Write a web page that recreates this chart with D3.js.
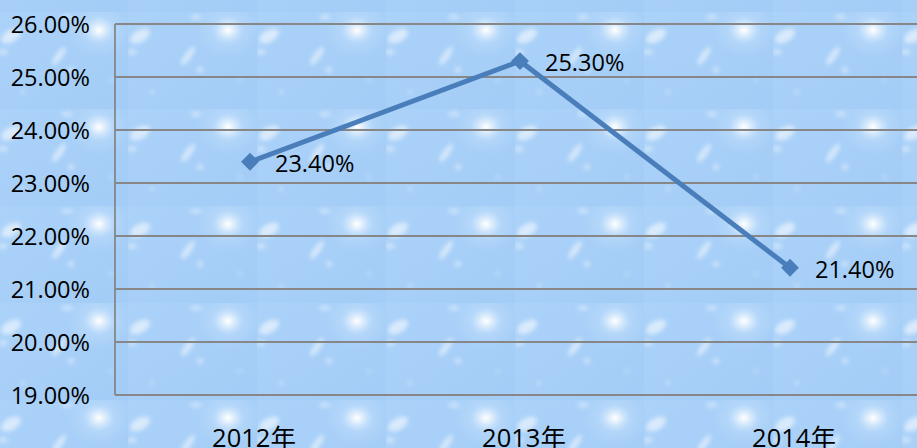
<!DOCTYPE html>
<html>
<head>
<meta charset="utf-8">
<script src="https://cdn.jsdelivr.net/npm/d3@7"></script>
<style>
  html, body { margin: 0; padding: 0; overflow: hidden; }
  svg { display: block; }
</style>
</head>
<body>
<div id="chart"></div>
<script>
// ---------------  DATA  ---------------
const categories = ["2012年", "2013年", "2014年"];
const rates = [23.40, 25.30, 21.40];
const yTicks = [19, 20, 21, 22, 23, 24, 25, 26];

const width = 917;
const height = 448;
const margin = { top: 24, left: 115, bottom: 53 };
const plotRight = 925;

const svg = d3.select("#chart")
  .append("svg")
  .attr("width", width)
  .attr("height", height);

// ---------------  BACKGROUND TILE  ---------------
const defs = svg.append("defs");
const tileW = 129, tileH = 97;

const glow = defs.append("radialGradient").attr("id", "glow");
glow.append("stop").attr("offset", "0%").attr("stop-color", "#ffffff").attr("stop-opacity", 1);
glow.append("stop").attr("offset", "15%").attr("stop-color", "#ffffff").attr("stop-opacity", 0.7);
glow.append("stop").attr("offset", "50%").attr("stop-color", "#d6ebff").attr("stop-opacity", 0.25);
glow.append("stop").attr("offset", "100%").attr("stop-color", "#d6ebff").attr("stop-opacity", 0);

const tileShade = defs.append("linearGradient").attr("id", "tileShade")
  .attr("x1", 0).attr("y1", 0).attr("x2", 1).attr("y2", 1);
tileShade.append("stop").attr("offset", "0%").attr("stop-color", "#abd2f9");
tileShade.append("stop").attr("offset", "100%").attr("stop-color", "#a3ccf6");

defs.append("filter").attr("id", "soft")
  .append("feGaussianBlur").attr("stdDeviation", 2);

const pattern = defs.append("pattern")
  .attr("id", "bgTile")
  .attr("patternUnits", "userSpaceOnUse")
  .attr("x", -1).attr("y", 12)
  .attr("width", tileW).attr("height", tileH);

pattern.append("rect").attr("width", tileW).attr("height", tileH).attr("fill", "url(#tileShade)");
pattern.append("ellipse").attr("cx", 100).attr("cy", 18).attr("rx", 32).attr("ry", 28).attr("fill", "url(#glow)");

const flakes = pattern.append("g").attr("filter", "url(#soft)").attr("fill", "#ffffff");
flakes.append("ellipse").attr("cx", 12).attr("cy", 24).attr("rx", 11).attr("ry", 6)
  .attr("transform", "rotate(-30 12 24)").attr("opacity", 0.55);
flakes.append("ellipse").attr("cx", 4).attr("cy", 40).attr("rx", 5).attr("ry", 3).attr("opacity", 0.4);
flakes.append("ellipse").attr("cx", 60).attr("cy", 44).attr("rx", 11).attr("ry", 3.5)
  .attr("transform", "rotate(-55 60 44)").attr("opacity", 0.5);
flakes.append("circle").attr("cx", 72).attr("cy", 58).attr("r", 3).attr("opacity", 0.45);
flakes.append("ellipse").attr("cx", 68).attr("cy", 5).attr("rx", 6).attr("ry", 3).attr("opacity", 0.35);
flakes.append("circle").attr("cx", 24).attr("cy", 80).attr("r", 2).attr("opacity", 0.45);
flakes.append("circle").attr("cx", 112).attr("cy", 68).attr("r", 2).attr("opacity", 0.35);

svg.append("rect").attr("width", width).attr("height", height).attr("fill", "url(#bgTile)");

// ---------------  SCALES  ---------------
const x = d3.scaleBand()
  .domain(categories)
  .range([margin.left, plotRight]);

const y = d3.scaleLinear()
  .domain([19, 26])
  .range([height - margin.bottom, margin.top]);

// ---------------  GRID + AXES  ---------------
svg.append("g")
  .selectAll("line")
  .data(yTicks)
  .enter()
  .append("line")
  .attr("x1", margin.left)
  .attr("x2", plotRight)
  .attr("y1", d => y(d))
  .attr("y2", d => y(d))
  .attr("stroke", "#878787")
  .attr("stroke-width", 1.8);

svg.append("line")
  .attr("x1", margin.left).attr("x2", margin.left)
  .attr("y1", y(26)).attr("y2", y(19))
  .attr("stroke", "#878787")
  .attr("stroke-width", 1.8);

const font = "'Open Sans', 'Noto Sans CJK SC', sans-serif";

svg.append("g")
  .selectAll("text")
  .data(yTicks)
  .enter()
  .append("text")
  .attr("x", 90)
  .attr("y", d => y(d))
  .attr("text-anchor", "end")
  .attr("dominant-baseline", "central")
  .attr("font-family", font)
  .attr("font-size", 23.5)
  .attr("fill", "#000")
  .text(d => d.toFixed(2) + "%");

svg.append("g")
  .selectAll("text")
  .data(categories)
  .enter()
  .append("text")
  .attr("x", d => x(d) + x.bandwidth() / 2 + 4)
  .attr("y", 447)
  .attr("text-anchor", "middle")
  .attr("font-family", font)
  .attr("font-size", 25.5)
  .attr("fill", "#000")
  .text(d => d);

// ---------------  LINE  ---------------
const line = d3.line()
  .x((d, i) => x(categories[i]) + x.bandwidth() / 2)
  .y(d => y(d));

svg.append("path")
  .datum(rates)
  .attr("d", line)
  .attr("fill", "none")
  .attr("stroke", "#4a7ebb")
  .attr("stroke-width", 5)
  .attr("stroke-linejoin", "round");

svg.append("g")
  .selectAll("path")
  .data(rates)
  .enter()
  .append("path")
  .attr("d", d3.symbol().type(d3.symbolSquare).size(160))
  .attr("transform", (d, i) => "translate(" + (x(categories[i]) + x.bandwidth() / 2) + "," + y(d) + ") rotate(45)")
  .attr("fill", "#4a7ebb");

svg.append("g")
  .selectAll("text")
  .data(rates)
  .enter()
  .append("text")
  .attr("x", (d, i) => x(categories[i]) + x.bandwidth() / 2 + 25)
  .attr("y", d => y(d) + 1)
  .attr("dominant-baseline", "central")
  .attr("font-family", font)
  .attr("font-size", 23.5)
  .attr("fill", "#000")
  .text(d => d.toFixed(2) + "%");
</script>
</body>
</html>
